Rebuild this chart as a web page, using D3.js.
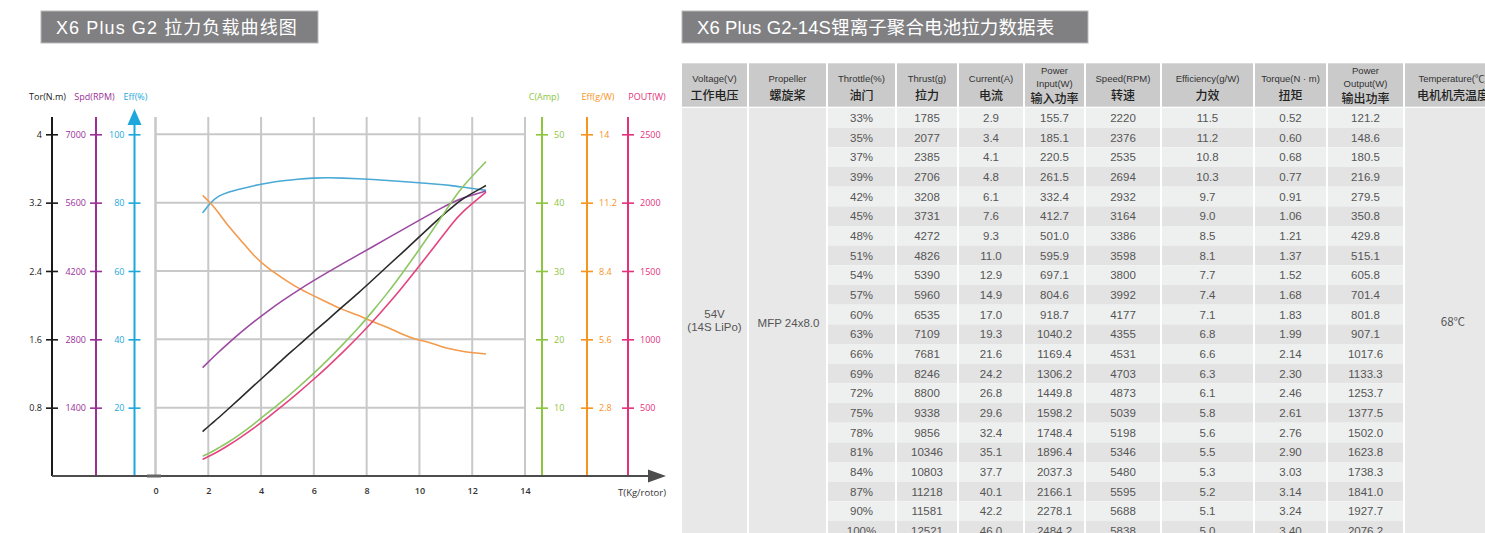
<!DOCTYPE html>
<html><head><meta charset="utf-8">
<script src="https://cdn.jsdelivr.net/npm/d3@7"></script>
<style>
html,body{margin:0;padding:0;background:#fff;}
svg{display:block;}
</style></head>
<body>
<svg id="c" width="1485" height="533"></svg>
<script>
// ---------------- DATA ----------------
const throttle = [33,35,37,39,42,45,48,51,54,57,60,63,66,69,72,75,78,81,84,87,90,100];
const thrust   = [1785,2077,2385,2706,3208,3731,4272,4826,5390,5960,6535,7109,7681,8246,8800,9338,9856,10346,10803,11218,11581,12521];
const current  = [2.9,3.4,4.1,4.8,6.1,7.6,9.3,11.0,12.9,14.9,17.0,19.3,21.6,24.2,26.8,29.6,32.4,35.1,37.7,40.1,42.2,46.0];
const powerIn  = [155.7,185.1,220.5,261.5,332.4,412.7,501.0,595.9,697.1,804.6,918.7,1040.2,1169.4,1306.2,1449.8,1598.2,1748.4,1896.4,2037.3,2166.1,2278.1,2484.2];
const speed    = [2220,2376,2535,2694,2932,3164,3386,3598,3800,3992,4177,4355,4531,4703,4873,5039,5198,5346,5480,5595,5688,5838];
const effGW    = [11.5,11.2,10.8,10.3,9.7,9.0,8.5,8.1,7.7,7.4,7.1,6.8,6.6,6.3,6.1,5.8,5.6,5.5,5.3,5.2,5.1,5.0];
const torque   = [0.52,0.60,0.68,0.77,0.91,1.06,1.21,1.37,1.52,1.68,1.83,1.99,2.14,2.30,2.46,2.61,2.76,2.90,3.03,3.14,3.24,3.40];
const powerOut = [121.2,148.6,180.5,216.9,279.5,350.8,429.8,515.1,605.8,701.4,801.8,907.1,1017.6,1133.3,1253.7,1377.5,1502.0,1623.8,1738.3,1841.0,1927.7,2076.2];
// motor efficiency (%)
const effPct   = [77,80,82,83,84,85,85.8,86.4,86.9,87.2,87.3,87.2,87,86.8,86.5,86.2,85.9,85.6,85.3,85,84.6,83.6];

const voltageText = ["54V","(14S LiPo)"];
const propText = "MFP 24x8.0";
const tempText = "68℃";

const xTicks   = [0,2,4,6,8,10,12,14];
const torTicks = [0.8,1.6,2.4,3.2,4];
const spdTicks = [1400,2800,4200,5600,7000];
const effTicks = [20,40,60,80,100];
const cTicks   = [10,20,30,40,50];
const egTicks  = [2.8,5.6,8.4,11.2,14];
const pTicks   = [500,1000,1500,2000,2500];

const leftTitle  = "X6 Plus G2 拉力负载曲线图";
const rightTitle = "X6 Plus G2-14S锂离子聚合电池拉力数据表";

const headers = [
  {en:["Voltage(V)"], zh:"工作电压"},
  {en:["Propeller"], zh:"螺旋桨"},
  {en:["Throttle(%)"], zh:"油门"},
  {en:["Thrust(g)"], zh:"拉力"},
  {en:["Current(A)"], zh:"电流"},
  {en:["Power","Input(W)"], zh:"输入功率"},
  {en:["Speed(RPM)"], zh:"转速"},
  {en:["Efficiency(g/W)"], zh:"力效"},
  {en:["Torque(N · m)"], zh:"扭矩"},
  {en:["Power","Output(W)"], zh:"输出功率"},
  {en:["Temperature(℃)"], zh:"电机机壳温度"}
];

// ---------------- CHART ----------------
const svg = d3.select("#c");
const FONT = "'Open Sans','Noto Sans CJK SC',sans-serif";
const TFONT = "'Liberation Sans','Noto Sans CJK SC',sans-serif";

// titles
function titleBox(x0, x1, txt, fs, ls){
  svg.append("rect").attr("x",x0).attr("y",11).attr("width",x1-x0).attr("height",32)
     .attr("fill","#808083").attr("stroke","#b9b9bb").attr("stroke-width",1);
  svg.append("text").attr("x",x0+15).attr("y",34).attr("fill","#fff")
     .attr("font-family","'Liberation Sans','Noto Sans CJK SC',sans-serif")
     .attr("font-size",fs).attr("letter-spacing",ls).text(txt);
}
titleBox(41, 318, leftTitle, 18, 1.1);
titleBox(682, 1088, rightTitle, 18.5, 0.1);

const yTop = 117, yBot = 476, yMax = 134.3;
const x = d3.scaleLinear().domain([0,14]).range([155.5,525]);
const yTor = d3.scaleLinear().domain([0,4]).range([yBot,yMax]);
const ySpd = d3.scaleLinear().domain([0,7000]).range([yBot,yMax]);
const yEff = d3.scaleLinear().domain([0,100]).range([yBot,yMax]);
const yC   = d3.scaleLinear().domain([0,50]).range([yBot,yMax]);
const yEg  = d3.scaleLinear().domain([0,14]).range([yBot,yMax]);
const yP   = d3.scaleLinear().domain([0,2500]).range([yBot,yMax]);

const gridC = "#c8c8c8";
const g = svg.append("g");
g.selectAll(".vg").data(xTicks).join("line")
  .attr("x1",d=>x(d)).attr("x2",d=>x(d)).attr("y1",yTop).attr("y2",yBot)
  .attr("stroke",gridC).attr("stroke-width",2);
g.selectAll(".hg").data(torTicks).join("line")
  .attr("x1",x(0)).attr("x2",x(14)).attr("y1",d=>yTor(d)).attr("y2",d=>yTor(d))
  .attr("stroke",gridC).attr("stroke-width",2);

function vAxis(scale, xpos, ticks, color, side, fmt, label){
  const ax = (side==="left"? d3.axisLeft(scale) : d3.axisRight(scale))
    .tickValues(ticks).tickFormat(fmt).tickSize(6).tickPadding(0);
  const a = svg.append("g").attr("transform",`translate(${xpos},0)`).call(ax);
  a.select(".domain").remove();
  a.append("line").attr("x1",0).attr("x2",0).attr("y1",yTop).attr("y2",yBot)
    .attr("stroke",color).attr("stroke-width",2);
  a.selectAll(".tick line").attr("x1",-6).attr("x2",6).attr("stroke",color).attr("stroke-width",1.6);
  a.selectAll(".tick text").attr("fill",color).attr("font-family",FONT).attr("font-size",9)
    .attr("x", side==="left" ? -10 : 12).attr("dy","0.34em");
  svg.append("text").attr("x", label[1]).attr("y",100).attr("text-anchor","middle")
    .attr("fill",color).attr("font-family",FONT).attr("font-size",9).text(label[0]);
  return a;
}
const fmtPlain = d=>String(d);
vAxis(yTor, 52, torTicks, "#1a1a1a", "left", fmtPlain, ["Tor(N.m)",47.5]);
vAxis(ySpd, 96, spdTicks, "#9b2f98", "left", fmtPlain, ["Spd(RPM)",94.5]);
vAxis(yEff, 134.5, effTicks, "#1ea7dc", "left", fmtPlain, ["Eff(%)",135.5]);
vAxis(yC, 542, cTicks, "#8cc63f", "right", fmtPlain, ["C(Amp)",544]);
vAxis(yEg, 587, egTicks, "#f7941d", "right", fmtPlain, ["Eff(g/W)",598]);
vAxis(yP, 628, pTicks, "#e5307c", "right", fmtPlain, ["POUT(W)",647]);

svg.append("path").attr("d","M134.5,109 L141.5,125 L127.5,125 Z").attr("fill","#1ea7dc");

svg.append("line").attr("x1",x(0)).attr("x2",x(0)).attr("y1",yTop).attr("y2",yBot)
  .attr("stroke",gridC).attr("stroke-width",2);

const xa = svg.append("g").attr("transform",`translate(0,${yBot})`)
  .call(d3.axisBottom(x).tickValues(xTicks).tickSize(0).tickPadding(12));
xa.select(".domain").remove();
xa.selectAll(".tick text").attr("font-family",FONT).attr("font-size",9)
  .attr("font-weight",600).attr("fill","#333");
svg.append("line").attr("x1",52).attr("x2",652).attr("y1",yBot).attr("y2",yBot)
  .attr("stroke","#4d4d4d").attr("stroke-width",2);
svg.append("line").attr("x1",147).attr("x2",161).attr("y1",yBot).attr("y2",yBot)
  .attr("stroke","#666").attr("stroke-width",3);
svg.append("path").attr("d",`M648,469.5 L666,${yBot} L648,482.5 Z`).attr("fill","#4d4d4d");
svg.append("text").attr("x",666).attr("y",496).attr("text-anchor","end")
  .attr("font-family",FONT).attr("font-size",9.5).attr("fill","#333").text("T(Kg/rotor)");

const kg = thrust.map(t=>t/1000);
const series = [
  {vals: effPct,   y: yEff, color:"#4aa9d6"},
  {vals: effGW,    y: yEg,  color:"#f39a4c"},
  {vals: speed,    y: ySpd, color:"#9c4aa2"},
  {vals: torque,   y: yTor, color:"#2a2a2a"},
  {vals: current,  y: yC,   color:"#8dc763"},
  {vals: powerOut, y: yP,   color:"#e4437f"}
];
series.forEach(s=>{
  const line = d3.line().x((d,i)=>x(kg[i])).y(d=>s.y(d)).curve(d3.curveBasis);
  svg.append("path").datum(s.vals).attr("d",line).attr("fill","none")
    .attr("stroke",s.color).attr("stroke-width",1.6);
});

// ---------------- TABLE ----------------
const cols = [
  [682,747],[749,826],[828,895],[897,957],[959,1023],[1025,1084],
  [1086,1160],[1162,1253],[1255,1326],[1328,1403],[1405,1501]
];
const hTop = 63.3, hBot = 106.7, rTop = 108, rH = 19.67, n = throttle.length;
const tb = svg.append("g");
tb.selectAll(".hc").data(cols).join("rect")
  .attr("x",d=>d[0]).attr("y",hTop).attr("width",d=>d[1]-d[0]).attr("height",hBot-hTop)
  .attr("fill","#cacaca");
headers.forEach((h,i)=>{
  const cx = (cols[i][0]+cols[i][1])/2;
  const two = h.en.length===2;
  h.en.forEach((t,j)=>{
    tb.append("text").attr("x",cx).attr("y", two ? 74+j*12.5 : 82).attr("text-anchor","middle")
      .attr("font-family",TFONT).attr("font-size",9.5).attr("fill","#333").text(t);
  });
  tb.append("text").attr("x",cx).attr("y", two ? 102.5 : 100).attr("text-anchor","middle")
    .attr("font-family","'Noto Sans CJK SC',sans-serif").attr("font-weight",500)
    .attr("font-size",12).attr("fill","#222").text(h.zh);
});
const tableBottom = rTop + n*rH;
[0,1,10].forEach(ci=>{
  tb.append("rect").attr("x",cols[ci][0]).attr("y",rTop).attr("width",cols[ci][1]-cols[ci][0])
    .attr("height",tableBottom-rTop).attr("fill","#e8e8e8");
});
const rows = throttle.map((t,i)=>[
  t+"%", String(thrust[i]), current[i].toFixed(1), powerIn[i].toFixed(1), String(speed[i]),
  effGW[i].toFixed(1), torque[i].toFixed(2), powerOut[i].toFixed(1)
]);
rows.forEach((r,i)=>{
  const y0 = rTop + i*rH;
  r.forEach((v,j)=>{
    const c = cols[j+2];
    tb.append("rect").attr("x",c[0]).attr("y",y0).attr("width",c[1]-c[0]).attr("height",rH)
      .attr("fill", i%2===0 ? "#eef0ef" : "#e3e3e3");
    tb.append("text").attr("x",(c[0]+c[1])/2).attr("y",y0+rH/2+4).attr("text-anchor","middle")
      .attr("font-family",TFONT).attr("font-size",11.5).attr("fill","#555").text(v);
  });
});
const midY = (rTop+tableBottom)/2;
tb.append("text").attr("x",(cols[0][0]+cols[0][1])/2).attr("y",midY-6).attr("text-anchor","middle")
  .attr("font-family",TFONT).attr("font-size",11.5).attr("fill","#555").text(voltageText[0]);
tb.append("text").attr("x",(cols[0][0]+cols[0][1])/2).attr("y",midY+7).attr("text-anchor","middle")
  .attr("font-family",TFONT).attr("font-size",11.5).attr("fill","#555").text(voltageText[1]);
tb.append("text").attr("x",(cols[1][0]+cols[1][1])/2+1).attr("y",midY+3).attr("text-anchor","middle")
  .attr("font-family",TFONT).attr("font-size",11.5).attr("fill","#555").text(propText);
tb.append("text").attr("x",(cols[10][0]+cols[10][1])/2).attr("y",midY+2).attr("text-anchor","middle")
  .attr("font-family","'Noto Sans CJK SC',sans-serif").attr("font-size",11.5).attr("fill","#555").text(tempText);
</script>
</body></html>
